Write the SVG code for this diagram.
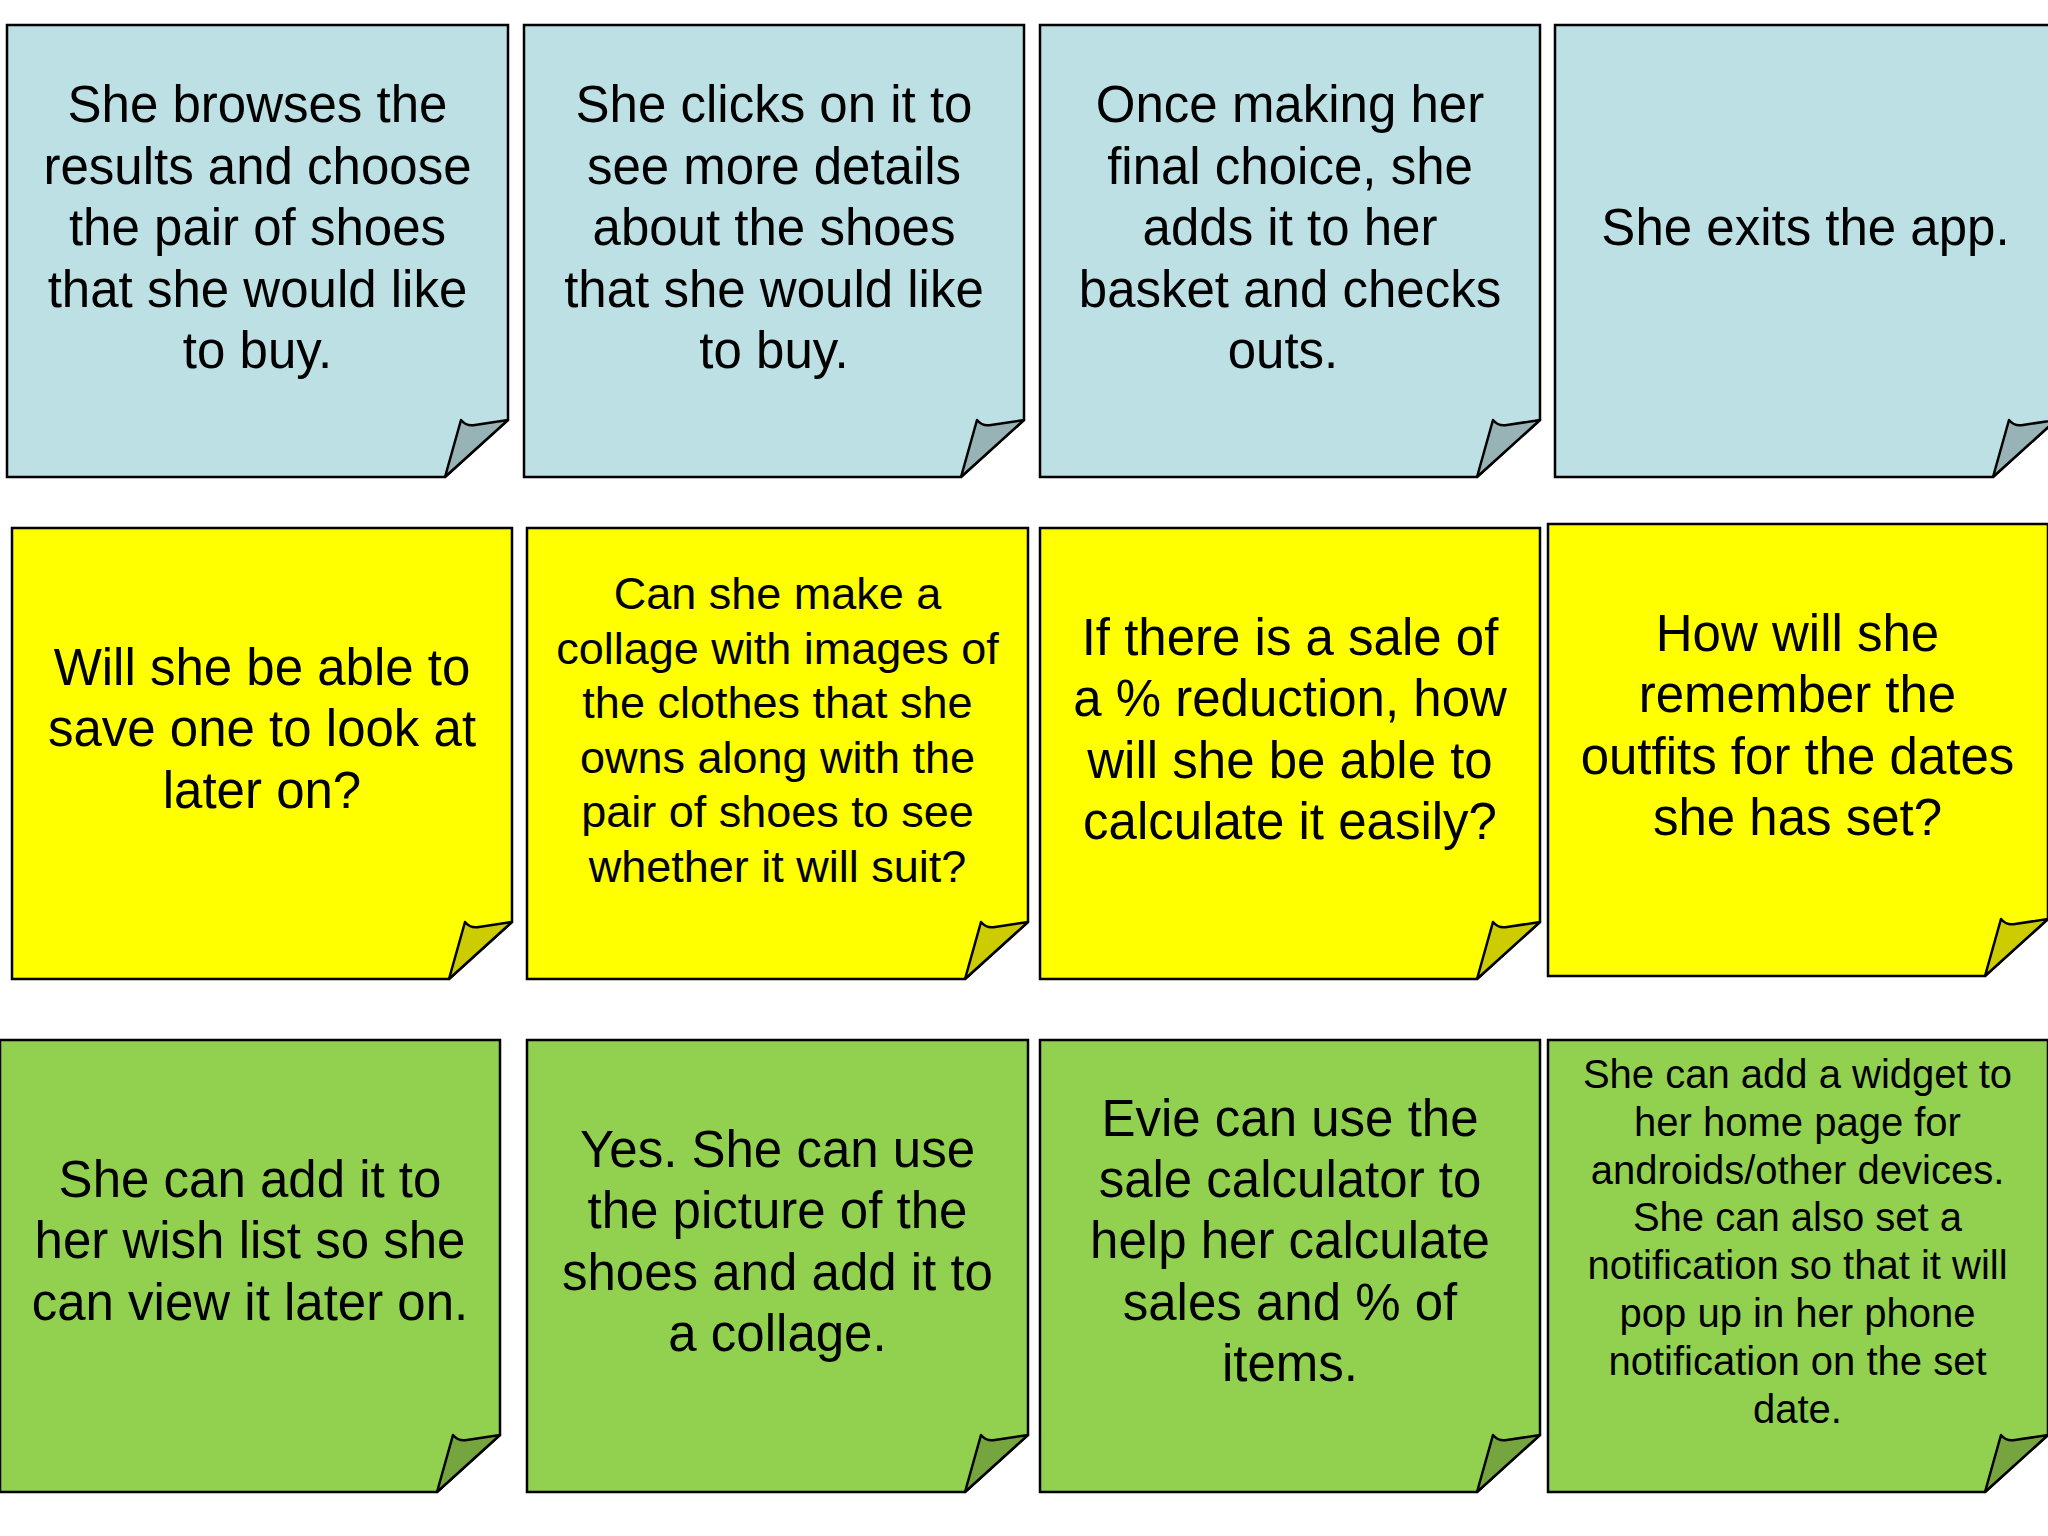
<svg xmlns="http://www.w3.org/2000/svg" width="2048" height="1536" viewBox="0 0 2048 1536">
<style>
.note{stroke:#000;stroke-width:2.5;stroke-linejoin:miter}
.blue .note{fill:#BCE0E3}
.blue .flap{fill:#97B3B6}
.yellow .note{fill:#FFFF00}
.yellow .flap{fill:#CCCC00}
.green .note{fill:#92D050}
.green .flap{fill:#76A540}
.flap{stroke:#000;stroke-width:2.5;stroke-linejoin:round}
text{font-family:"Liberation Sans",Arial,sans-serif;fill:#000;text-anchor:middle}
.f51{font-size:51px}
.f45{font-size:45px}
.f40{font-size:40px}
</style>
<rect width="2048" height="1536" fill="#FFFFFF"/>

<!-- Row 1 -->
<g id="n-r1c1" class="blue">
<path class="note" d="M7,25 H508 V420 L445,477 H7 Z"/>
<path class="flap" d="M461,420 C465,425 470,426 475,425 L508,420 L445,477 Z"/>
<text class="f51"><tspan x="257.5" y="122">She browses the</tspan><tspan x="257.5" y="183.5">results and choose</tspan><tspan x="257.5" y="245">the pair of shoes</tspan><tspan x="257.5" y="306.5">that she would like</tspan><tspan x="257.5" y="368">to buy.</tspan></text>
</g>
<g id="n-r1c2" class="blue">
<path class="note" d="M524,25 H1024 V420 L961,477 H524 Z"/>
<path class="flap" d="M977,420 C981,425 986,426 991,425 L1024,420 L961,477 Z"/>
<text class="f51"><tspan x="774" y="122">She clicks on it to</tspan><tspan x="774" y="183.5">see more details</tspan><tspan x="774" y="245">about the shoes</tspan><tspan x="774" y="306.5">that she would like</tspan><tspan x="774" y="368">to buy.</tspan></text>
</g>
<g id="n-r1c3" class="blue">
<path class="note" d="M1040,25 H1540 V420 L1477,477 H1040 Z"/>
<path class="flap" d="M1493,420 C1497,425 1502,426 1507,425 L1540,420 L1477,477 Z"/>
<text class="f51"><tspan x="1290" y="122">Once making her</tspan><tspan x="1290" y="183.5">final choice, she</tspan><tspan x="1290" y="245">adds it to her</tspan><tspan x="1290" y="306.5">basket and checks</tspan><tspan x="1283" y="368">outs.</tspan></text>
</g>
<g id="n-r1c4" class="blue">
<path class="note" d="M1555,25 H2056 V420 L1993,477 H1555 Z"/>
<path class="flap" d="M2009,420 C2013,425 2018,426 2023,425 L2056,420 L1993,477 Z"/>
<text class="f51"><tspan x="1805.5" y="245">She exits the app.</tspan></text>
</g>

<!-- Row 2 -->
<g id="n-r2c1" class="yellow">
<path class="note" d="M12,528 H512 V922 L449,979 H12 Z"/>
<path class="flap" d="M465,922 C469,927 474,928 479,927 L512,922 L449,979 Z"/>
<text class="f51"><tspan x="262" y="685">Will she be able to</tspan><tspan x="262" y="746.3">save one to look at</tspan><tspan x="262" y="807.8">later on?</tspan></text>
</g>
<g id="n-r2c2" class="yellow">
<path class="note" d="M527,528 H1028 V922 L965,979 H527 Z"/>
<path class="flap" d="M981,922 C985,927 990,928 995,927 L1028,922 L965,979 Z"/>
<text class="f45"><tspan x="777.5" y="609">Can she make a</tspan><tspan x="777.5" y="663.6">collage with images of</tspan><tspan x="777.5" y="718.2">the clothes that she</tspan><tspan x="777.5" y="772.8">owns along with the</tspan><tspan x="777.5" y="827.4">pair of shoes to see</tspan><tspan x="777.5" y="882">whether it will suit?</tspan></text>
</g>
<g id="n-r2c3" class="yellow">
<path class="note" d="M1040,528 H1540 V922 L1477,979 H1040 Z"/>
<path class="flap" d="M1493,922 C1497,927 1502,928 1507,927 L1540,922 L1477,979 Z"/>
<text class="f51"><tspan x="1290" y="655">If there is a sale of</tspan><tspan x="1290" y="716.3">a % reduction, how</tspan><tspan x="1290" y="777.8">will she be able to</tspan><tspan x="1290" y="839.1">calculate it easily?</tspan></text>
</g>
<g id="n-r2c4" class="yellow">
<path class="note" d="M1548,524 H2048 V919 L1985,976 H1548 Z"/>
<path class="flap" d="M2001,919 C2005,924 2010,925 2015,924 L2048,919 L1985,976 Z"/>
<text class="f51"><tspan x="1797.5" y="651">How will she</tspan><tspan x="1797.5" y="712.4">remember the</tspan><tspan x="1797.5" y="773.8">outfits for the dates</tspan><tspan x="1797.5" y="835.3">she has set?</tspan></text>
</g>

<!-- Row 3 -->
<g id="n-r3c1" class="green">
<path class="note" d="M0,1040 H500 V1435 L437,1492 H0 Z"/>
<path class="flap" d="M453,1435 C457,1440 462,1441 467,1440 L500,1435 L437,1492 Z"/>
<text class="f51"><tspan x="250" y="1197">She can add it to</tspan><tspan x="250" y="1258.4">her wish list so she</tspan><tspan x="250" y="1319.8">can view it later on.</tspan></text>
</g>
<g id="n-r3c2" class="green">
<path class="note" d="M527,1040 H1028 V1435 L965,1492 H527 Z"/>
<path class="flap" d="M981,1435 C985,1440 990,1441 995,1440 L1028,1435 L965,1492 Z"/>
<text class="f51"><tspan x="777.5" y="1167">Yes. She can use</tspan><tspan x="777.5" y="1228.3">the picture of the</tspan><tspan x="777.5" y="1289.8">shoes and add it to</tspan><tspan x="777.5" y="1351.1">a collage.</tspan></text>
</g>
<g id="n-r3c3" class="green">
<path class="note" d="M1040,1040 H1540 V1435 L1477,1492 H1040 Z"/>
<path class="flap" d="M1493,1435 C1497,1440 1502,1441 1507,1440 L1540,1435 L1477,1492 Z"/>
<text class="f51"><tspan x="1290" y="1135.6">Evie can use the</tspan><tspan x="1290" y="1197">sale calculator to</tspan><tspan x="1290" y="1258.3">help her calculate</tspan><tspan x="1290" y="1319.8">sales and % of</tspan><tspan x="1290" y="1381.2">items.</tspan></text>
</g>
<g id="n-r3c4" class="green">
<path class="note" d="M1548,1040 H2048 V1435 L1985,1492 H1548 Z"/>
<path class="flap" d="M2001,1435 C2005,1440 2010,1441 2015,1440 L2048,1435 L1985,1492 Z"/>
<text class="f40"><tspan x="1797.5" y="1088">She can add a widget to</tspan><tspan x="1797.5" y="1135.8">her home page for</tspan><tspan x="1797.5" y="1183.6">androids/other devices.</tspan><tspan x="1797.5" y="1231.4">She can also set a</tspan><tspan x="1797.5" y="1279.2">notification so that it will</tspan><tspan x="1797.5" y="1327">pop up in her phone</tspan><tspan x="1797.5" y="1374.8">notification on the set</tspan><tspan x="1797.5" y="1422.6">date.</tspan></text>
</g>

<g id="connectors"></g>
</svg>
